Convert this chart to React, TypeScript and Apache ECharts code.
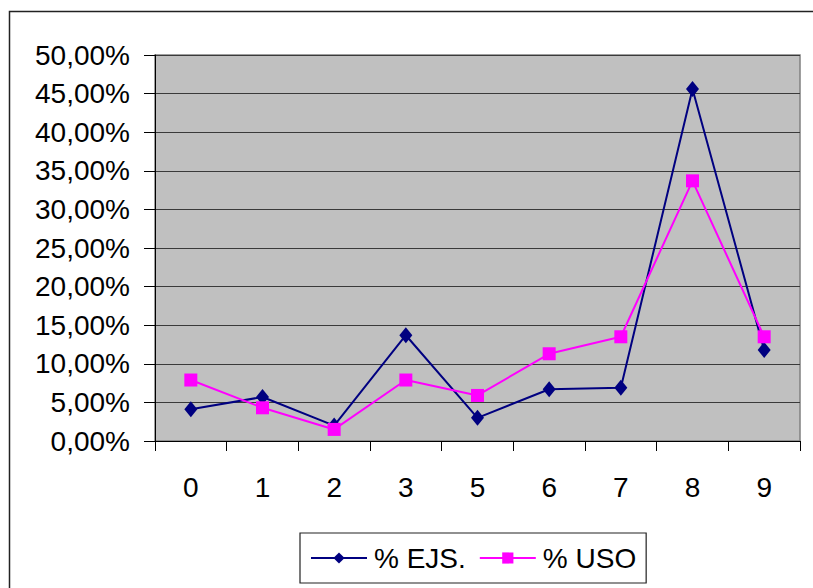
import React, { useEffect, useRef } from "react";
import * as echarts from "echarts";

const categories = ["0", "1", "2", "3", "5", "6", "7", "8", "9"];
const ejsValues = [4.1, 5.7, 2.0, 13.7, 3.0, 6.7, 6.9, 45.6, 11.8];
const usoValues = [7.9, 4.3, 1.5, 7.9, 5.9, 11.3, 13.5, 33.7, 13.5];
const yTickStep = 5;
const yMax = 50;

const fmtPct = (v: number) => v.toFixed(2).replace(".", ",") + "%";

export default function App() {
  const ref = useRef<HTMLDivElement>(null);

  useEffect(() => {
    if (!ref.current) return;
    const chart = echarts.init(ref.current, undefined, { renderer: "svg" });
    const font = "'Liberation Sans', Arial, sans-serif";
    chart.setOption({
      animation: false,
      backgroundColor: "#ffffff",
      textStyle: { fontFamily: font },
      graphic: [
        {
          type: "rect",
          shape: { x: 9.5, y: 11.5, width: 810, height: 600 },
          style: { fill: "none", stroke: "#222", lineWidth: 1.5 },
          silent: true,
          z: -10,
        },
      ],
      grid: {
        left: 155,
        top: 55,
        right: 13,
        bottom: 147,
        show: true,
        backgroundColor: "#C0C0C0",
        borderColor: "#808080",
        borderWidth: 1.5,
      },
      legend: {
        left: 300,
        top: 533,
        width: 353,
        padding: [11, 10, 11, 10],
        itemWidth: 56,
        itemHeight: 14,
        itemGap: 13,
        borderColor: "#222",
        borderWidth: 1.2,
        backgroundColor: "#fff",
        textStyle: { fontSize: 28, color: "#000", fontFamily: font, padding: [0, 0, 0, 2] },
        data: ["% EJS.", "% USO"],
      },
      xAxis: {
        type: "category",
        data: categories,
        boundaryGap: true,
        axisLine: { lineStyle: { color: "#000", width: 1 } },
        axisTick: { show: true, length: 10, lineStyle: { color: "#000" } },
        axisLabel: { fontSize: 28, color: "#000", margin: 32, fontFamily: font },
        splitLine: { show: false },
      },
      yAxis: {
        type: "value",
        min: 0,
        max: yMax,
        interval: yTickStep,
        axisLine: { show: true, lineStyle: { color: "#000", width: 1 } },
        axisTick: { show: true, length: 11, lineStyle: { color: "#000" } },
        axisLabel: {
          fontSize: 28,
          color: "#000",
          margin: 25,
          fontFamily: font,
          formatter: (v: number) => fmtPct(v),
        },
        splitLine: { show: true, lineStyle: { color: "#3a3a3a", width: 1.2 } },
      },
      series: [
        {
          name: "% EJS.",
          type: "line",
          data: ejsValues,
          symbol: "diamond",
          symbolSize: [13, 16],
          lineStyle: { color: "#000080", width: 2 },
          itemStyle: { color: "#000080" },
          z: 2,
        },
        {
          name: "% USO",
          type: "line",
          data: usoValues,
          symbol: "rect",
          symbolSize: 13,
          lineStyle: { color: "#FF00FF", width: 2 },
          itemStyle: { color: "#FF00FF" },
          z: 3,
        },
      ],
    });
    return () => chart.dispose();
  }, []);

  return (
    <div
      ref={ref}
      style={{ position: "fixed", left: 0, top: 0, width: 813, height: 588 }}
    />
  );
}
